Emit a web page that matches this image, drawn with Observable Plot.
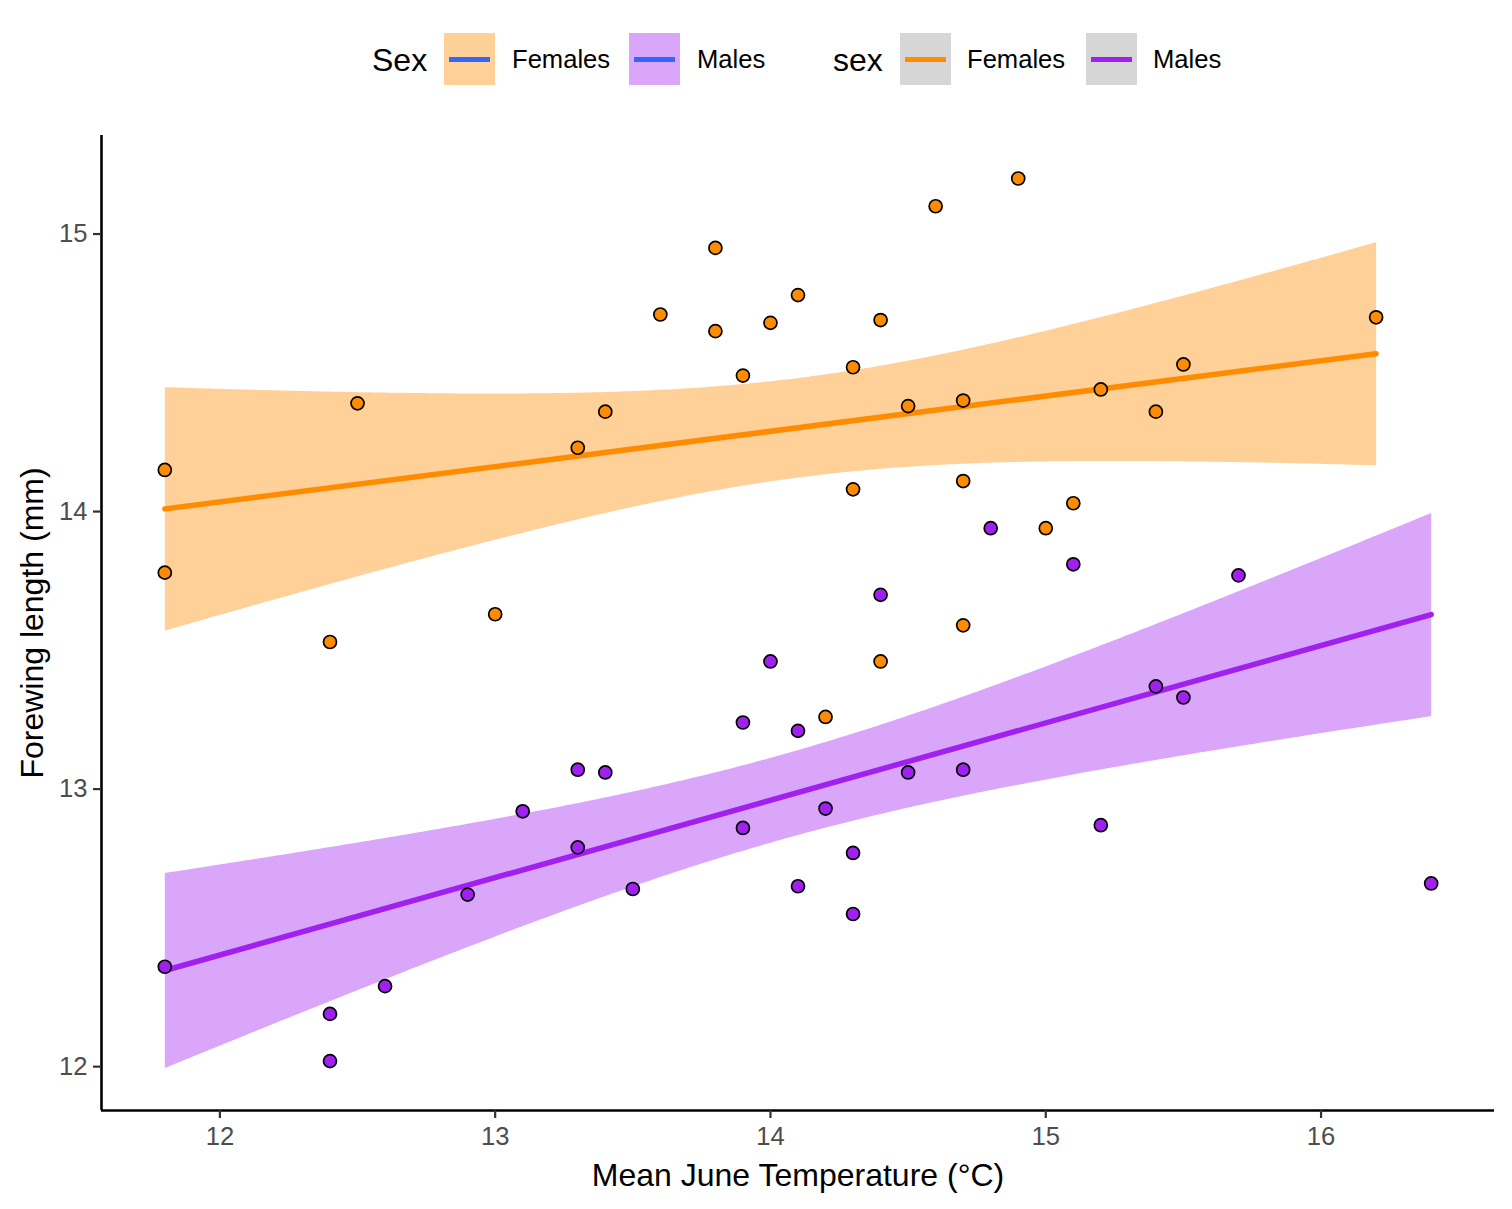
<!DOCTYPE html>
<html><head><meta charset="utf-8">
<script src="https://cdn.jsdelivr.net/npm/d3@7"></script>
<script src="https://cdn.jsdelivr.net/npm/@observablehq/plot@0.6"></script>
<style>
body{margin:0;background:#fff;font-family:"Liberation Sans",Arial,Helvetica,sans-serif;}
#legend{position:relative;width:1512px;height:100px;}
#legend .t{position:absolute;top:60px;transform:translateY(-50%);white-space:nowrap;color:#000;line-height:1;}
#legend .key{position:absolute;top:33px;width:51px;height:52px;}
#legend .key i{position:absolute;left:5px;right:5px;top:23.5px;height:5px;}
#chart svg{display:block;}
</style></head><body>
<div id="legend"></div>
<div id="chart"></div>
<script>
// ---- data ----
const sexes = ["Females", "Males"];
const sexColors = ["#FF8C00", "#A020F0"];
const bandColors = ["#FFD199", "#D9A6F9"];
const femaleTemp   = [11.8, 11.8, 12.4, 12.5, 13.0, 13.3, 13.4, 13.6, 13.8, 13.8, 13.9, 14.0, 14.1, 14.2, 14.3, 14.3, 14.4, 14.4, 14.5, 14.6, 14.7, 14.7, 14.7, 14.9, 15.0, 15.1, 15.2, 15.4, 15.5, 16.2];
const femaleLength = [14.15, 13.78, 13.53, 14.39, 13.63, 14.23, 14.36, 14.71, 14.95, 14.65, 14.49, 14.68, 14.78, 13.26, 14.52, 14.08, 14.69, 13.46, 14.38, 15.10, 14.40, 14.11, 13.59, 15.20, 13.94, 14.03, 14.44, 14.36, 14.53, 14.70];
const maleTemp   = [11.8, 12.4, 12.4, 12.6, 12.9, 13.1, 13.3, 13.3, 13.4, 13.5, 13.9, 13.9, 14.0, 14.1, 14.1, 14.2, 14.3, 14.3, 14.4, 14.5, 14.7, 14.8, 15.1, 15.2, 15.4, 15.5, 15.7, 16.4];
const maleLength = [12.36, 12.19, 12.02, 12.29, 12.62, 12.92, 13.07, 12.79, 13.06, 12.64, 13.24, 12.86, 13.46, 13.21, 12.65, 12.93, 12.77, 12.55, 13.70, 13.06, 13.07, 13.94, 13.81, 12.87, 13.37, 13.33, 13.77, 12.66];
const xTicks = [12, 13, 14, 15, 16];
const yTicks = [12, 13, 14, 15];
const xTitle = "Mean June Temperature (°C)";
const yTitle = "Forewing length (mm)";
const legendTitles = ["Sex", "sex"];

// ---- table ----
const rows = [
  ...femaleTemp.map((t, i) => ({sex: sexes[0], temp: t, len: femaleLength[i]})),
  ...maleTemp.map((t, i) => ({sex: sexes[1], temp: t, len: maleLength[i]}))
];

// ---- legend ----
const legend = document.getElementById("legend");
function addText(txt, left, size) {
  const s = document.createElement("span");
  s.className = "t"; s.textContent = txt;
  s.style.left = left + "px"; s.style.fontSize = size + "px";
  legend.appendChild(s);
}
function addKey(left, fill, line) {
  const d = document.createElement("div");
  d.className = "key"; d.style.left = left + "px"; d.style.background = fill;
  const i = document.createElement("i"); i.style.background = line;
  d.appendChild(i); legend.appendChild(d);
}
addText(legendTitles[0], 372, 32);
addKey(444, bandColors[0], "#3366FF");
addText(sexes[0], 512, 25.6);
addKey(629, bandColors[1], "#3366FF");
addText(sexes[1], 697, 25.6);
addText(legendTitles[1], 833, 32);
addKey(900, "#D6D6D6", sexColors[0]);
addText(sexes[0], 967, 25.6);
addKey(1086, "#D6D6D6", sexColors[1]);
addText(sexes[1], 1153, 25.6);

// ---- plot ----
const xDomain = [11.57, 16.63];
const yDomain = [11.842, 15.355];
const chart = Plot.plot({
  width: 1512, height: 1109,
  marginTop: 35, marginBottom: 99, marginLeft: 101, marginRight: 18,
  style: {fontFamily: '"Liberation Sans", Arial, Helvetica, sans-serif', fontSize: "25.6px", color: "#4D4D4D", background: "#fff"},
  x: {domain: xDomain, label: null},
  y: {domain: yDomain, label: null},
  color: {domain: sexes, range: sexColors},
  marks: [
    Plot.linearRegressionY(rows, {x: "temp", y: "len", stroke: "sex", fill: "sex", fillOpacity: 0.4, strokeWidth: 5.5, ci: 0.95}),
    Plot.dot(rows, {x: "temp", y: "len", fill: "sex", stroke: "black", strokeWidth: 1.7, r: 6.5}),
    Plot.ruleX([xDomain[0]], {stroke: "black", strokeWidth: 2.6}),
    Plot.ruleY([yDomain[0]], {stroke: "black", strokeWidth: 2.6}),
    Plot.axisX({ticks: xTicks, tickFormat: d => String(d), tickSize: 8, tickPadding: 8, stroke: "#333333", strokeWidth: 2.2, label: null, fontSize: 25.6}),
    Plot.axisY({ticks: yTicks, tickFormat: d => String(d), tickSize: 8, tickPadding: 6, stroke: "#333333", strokeWidth: 2.2, label: null, fontSize: 25.6}),
    Plot.text([xTitle], {text: d => d, frameAnchor: "bottom", dy: 65, lineAnchor: "middle", textAnchor: "middle", fontSize: 32, fill: "black"}),
    Plot.text([yTitle], {text: d => d, frameAnchor: "left", dx: -69, rotate: -90, lineAnchor: "middle", textAnchor: "middle", fontSize: 32, fill: "black"})
  ]
});
document.getElementById("chart").appendChild(chart);
</script>
</body></html>
